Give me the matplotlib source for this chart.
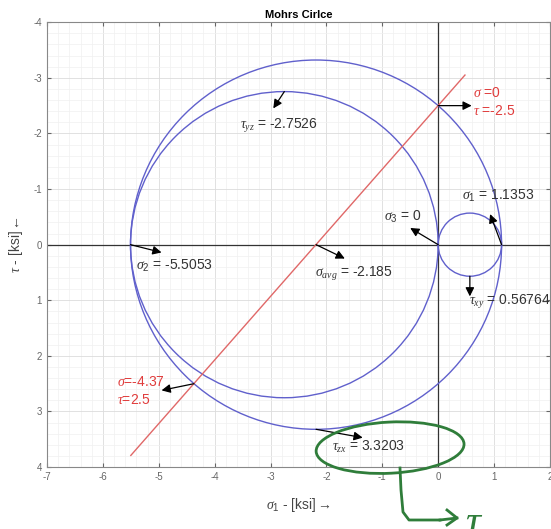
import numpy as np
import matplotlib
matplotlib.use("Agg")
import matplotlib.pyplot as plt
from matplotlib.patches import Circle, Ellipse

plt.rcParams['font.family'] = ['Liberation Sans', 'DejaVu Sans']
plt.rcParams['mathtext.fontset'] = 'custom'
plt.rcParams['mathtext.it'] = 'Liberation Serif:italic'
plt.rcParams['mathtext.rm'] = 'Liberation Sans'
plt.rcParams['axes.unicode_minus'] = False

# principal stresses [ksi]
sigma_1 = 1.1353
sigma_2 = -5.5053
sigma_3 = 0.0
sigma_avg = -2.185

# circle centres / radii
circ_centers = [sigma_avg, (sigma_2 + sigma_3) / 2, (sigma_1 + sigma_3) / 2]
circ_radii = [3.3203, 2.7526, 0.56764]

# stress line
line_x = [-5.5, 0.48]
line_y = [3.79, -3.05]

tau_yz = -2.7526
tau_xy = 0.56764
tau_zx = 3.3203

fig = plt.figure(figsize=(5.51, 5.29), dpi=100)
ax = fig.add_axes([0.0853, 0.117, 0.9127, 0.841])

for c, r in zip(circ_centers, circ_radii):
    ax.add_patch(Circle((c, 0), r, fill=False, ec='#6060cc', lw=1.0, zorder=3))

ax.plot(line_x, line_y, color='#e06868', lw=1.0, zorder=3)
ax.axhline(0, color='#333333', lw=0.9, zorder=2)
ax.axvline(0, color='#333333', lw=0.9, zorder=2)

ax.set_xlim(-7, 2)
ax.set_ylim(4, -4)
ax.set_xticks(np.arange(-7, 3, 1))
ax.set_yticks(np.arange(-4, 5, 1))
ax.set_xticks(np.arange(-7, 2.01, 0.2), minor=True)
ax.set_yticks(np.arange(-4, 4.01, 0.2), minor=True)
ax.grid(which='major', color='#dcdcdc', lw=0.6)
ax.grid(which='minor', color='#f0f0f0', lw=0.5)
ax.set_axisbelow(True)
ax.tick_params(which='both', direction='in', top=True, right=True,
               labelsize=7, colors='#666666', length=3)
ax.tick_params(which='minor', length=0)
for s in ax.spines.values():
    s.set_color('#888888')
    s.set_linewidth(0.8)

ax.set_title('Mohrs Cirlce', fontsize=8, fontweight='bold', pad=3)
ax.set_xlabel(r'$\sigma_1$ - [ksi]$\rightarrow$', fontsize=10, color='#444444', labelpad=10)
ax.set_ylabel(r'$\tau$ - [ksi]$\leftarrow$', fontsize=10, color='#444444', labelpad=6)

arw = dict(arrowstyle='-|>', color='black', lw=0.9, mutation_scale=13, shrinkA=0, shrinkB=0)
txt = dict(fontsize=10, color='#333333', va='center')

def note(pt, tip, text, pos, **kw):
    ax.annotate('', xy=tip, xytext=pt, arrowprops=arw, zorder=5)
    opts = dict(txt)
    opts.update(kw)
    ax.text(pos[0], pos[1], text, **opts)

note((circ_centers[1], tau_yz), (-2.95, -2.45),
     r'$\tau_{yz}$ = %.4f' % tau_yz, (-3.55, -2.13))
note((sigma_1, 0), (0.93, -0.55), r'$\sigma_1$ = %.4f' % sigma_1, (0.43, -0.88))
note((sigma_3, 0), (-0.5, -0.3), r'$\sigma_3$ = %g' % sigma_3, (-0.97, -0.5))
note((sigma_2, 0), (-4.95, 0.14), r'$\sigma_2$ = %.4f' % sigma_2, (-5.4, 0.38))
note((sigma_avg, 0), (-1.67, 0.25), r'$\sigma_{avg}$ = %.3f' % sigma_avg, (-2.2, 0.52))
note((tau_xy, tau_xy), (tau_xy, 0.93), r'$\tau_{xy}$ = %.5f' % tau_xy, (0.55, 1.04))
note((sigma_avg, tau_zx), (-1.35, 3.47), r'$\tau_{zx}$ = %.4f' % tau_zx, (-1.9, 3.63))

# points where the stress line meets the axis and the outer circle
ax.annotate('', xy=(0.6, -2.5), xytext=(0, -2.5), arrowprops=arw, zorder=5)
ax.text(0.62, -2.72, r'$\sigma$ =0', color='#e03c3c', fontsize=10, va='center')
ax.text(0.62, -2.4, r'$\tau$ =-2.5', color='#e03c3c', fontsize=10, va='center')
ax.annotate('', xy=(-4.95, 2.62), xytext=(-4.37, 2.5), arrowprops=arw, zorder=5)
ax.text(-5.75, 2.47, r'$\sigma$=-4.37', color='#e03c3c', fontsize=10, va='center')
ax.text(-5.75, 2.8, r'$\tau$=2.5', color='#e03c3c', fontsize=10, va='center')

# hand-drawn highlight
green = '#2f7d3a'
ax.add_patch(Ellipse((-0.86, 3.65), 2.65, 0.92, angle=-3, fill=False, ec=green,
                     lw=2.0, clip_on=False, zorder=6))
W, H = 551.0, 529.0
hx = np.array([400, 401, 403, 409, 440]) / W
hy = 1 - np.array([468, 490, 512, 520, 520]) / H
fig.add_artist(plt.Line2D(hx, hy, color=green, lw=2.0, transform=fig.transFigure))
fig.add_artist(plt.Line2D(np.array([440, 457]) / W, 1 - np.array([520, 518]) / H,
                          color=green, lw=2.0, transform=fig.transFigure))
fig.add_artist(plt.Line2D(np.array([447, 457, 447]) / W, 1 - np.array([510, 518, 525]) / H,
                          color=green, lw=2.0, transform=fig.transFigure))
fig.text(465 / W, 1 - 503 / H, r'$\tau$', color=green, fontsize=30, va='top')

fig.savefig('out.png', dpi=100)
